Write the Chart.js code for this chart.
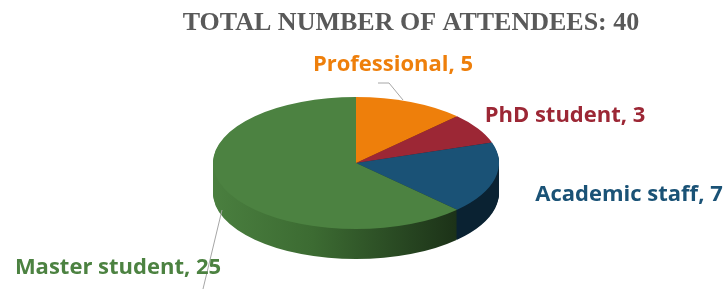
<!DOCTYPE html>
<html>
<head>
<meta charset="utf-8">
<script src="https://cdn.jsdelivr.net/npm/chart.js@4"></script>
<style>
html,body{margin:0;padding:0;background:#fff;}
#wrap{width:726px;height:289px;}
</style>
</head>
<body>
<div id="wrap"><canvas id="c" width="726" height="289"></canvas></div>
<script>
const categories = ["Professional", "PhD student", "Academic staff", "Master student"];
const values = [5, 3, 7, 25];
const topColors = ["#EE7F0B", "#9C2735", "#1A5276", "#4C8241"];
const sideLight = ["#C46708", "#7E1E2A", "#154463", "#4A7F3F"];
const sideMid = ["#A55806", "#6A1923", "#10334A", "#3C6B32"];
const sideDark = ["#7A4005", "#4A1119", "#0A2232", "#1C3218"];
const titleText = "TOTAL NUMBER OF ATTENDEES: " + values.reduce((a, b) => a + b, 0);

const geo = { cx: 356, cy: 163, rx: 143, ry: 66, depth: 30 };
const labelPos = [
  { x: 393, y: 65 },
  { x: 565, y: 116 },
  { x: 629, y: 195 },
  { x: 118, y: 268 }
];

function setTransform(ctx, arc, dy) {
  const r = arc.outerRadius;
  ctx.translate(geo.cx, geo.cy + dy);
  ctx.scale(geo.rx / r, geo.ry / r);
  ctx.translate(-arc.x, -arc.y);
}

const pie3d = {
  id: 'pie3d',
  beforeDatasetsDraw(chart) {
    const ctx = chart.ctx;
    const meta = chart.getDatasetMeta(0);
    const arcs = meta.data;
    const r = arcs[0].outerRadius;
    for (let d = geo.depth; d >= 1; d--) {
      arcs.forEach((arc, i) => {
        ctx.save();
        setTransform(ctx, arc, d);
        const g = ctx.createLinearGradient(arc.x - r, 0, arc.x + r, 0);
        g.addColorStop(0, sideLight[i]);
        g.addColorStop(0.35, sideMid[i]);
        g.addColorStop(0.85, sideDark[i]);
        g.addColorStop(1, sideDark[i]);
        const proxy = Object.create(arc);
        proxy.options = Object.assign({}, arc.options, { backgroundColor: g, borderWidth: 0 });
        proxy.draw(ctx);
        ctx.restore();
      });
    }
    arcs.forEach((arc) => {
      ctx.save();
      setTransform(ctx, arc, 0);
      arc.draw(ctx);
      ctx.restore();
    });
    return false;
  },
  afterDraw(chart) {
    const ctx = chart.ctx;
    ctx.save();
    ctx.fillStyle = "#595959";
    ctx.font = "bold 26px 'Liberation Serif', 'Times New Roman', serif";
    ctx.textAlign = "center";
    ctx.textBaseline = "middle";
    ctx.fillText(titleText, 411, 23);
    ctx.strokeStyle = "#A6A6A6";
    ctx.lineWidth = 1;
    ctx.beginPath();
    ctx.moveTo(378, 83); ctx.lineTo(389, 83); ctx.lineTo(403, 100);
    ctx.moveTo(222, 210); ctx.lineTo(203, 289);
    ctx.stroke();
    ctx.font = "bold 22px 'Open Sans', sans-serif";
    categories.forEach((c, i) => {
      ctx.fillStyle = topColors[i];
      ctx.fillText(c + ", " + values[i], labelPos[i].x, labelPos[i].y);
    });
    ctx.restore();
  }
};

new Chart(document.getElementById('c'), {
  type: 'pie',
  data: {
    labels: categories,
    datasets: [{
      data: values,
      backgroundColor: topColors,
      borderWidth: 0
    }]
  },
  options: {
    responsive: false,
    animation: false,
    plugins: {
      legend: { display: false },
      title: { display: false },
      tooltip: { enabled: false }
    }
  },
  plugins: [pie3d]
});
</script>
</body>
</html>
